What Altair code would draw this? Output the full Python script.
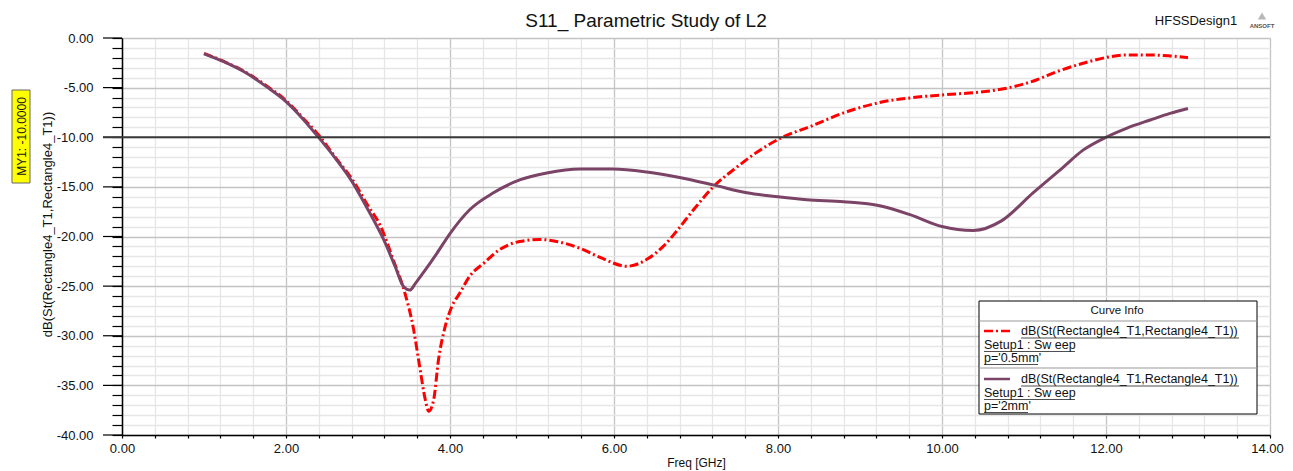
import altair as alt
import pandas as pd

# ---------------- data ----------------
freq_05 = [1.0, 1.24, 1.52, 1.76, 2.0, 2.2, 2.4, 2.6, 2.82, 3.0, 3.15, 3.31, 3.45, 3.55,
           3.63, 3.70, 3.74, 3.80, 3.86, 3.94, 4.02, 4.12, 4.24, 4.41, 4.61, 4.85, 5.10,
           5.30, 5.59, 5.83, 6.16, 6.42, 6.60, 6.75, 6.97, 7.21, 7.50, 7.78, 8.07, 8.39,
           8.80, 9.24, 9.65, 10.06, 10.46, 10.75, 11.15, 11.40, 11.72, 12.01, 12.25, 12.54,
           12.78, 13.0]
db_05 = [-1.55, -2.35, -3.5, -4.8, -6.3, -8.0, -9.8, -12.0, -14.4, -16.9, -18.9, -22.4,
         -25.7, -29.1, -33.1, -36.5, -37.6, -36.5, -32.4, -29.1, -27.1, -25.7, -24.0, -22.7,
         -21.3, -20.5, -20.3, -20.5, -21.2, -22.1, -23.0, -22.2, -21.0, -19.6, -17.3, -15.0,
         -13.0, -11.3, -9.94, -8.93, -7.55, -6.5, -6.0, -5.7, -5.45, -5.12, -4.23, -3.39,
         -2.55, -1.95, -1.71, -1.71, -1.81, -1.98]

freq_2 = [1.0, 1.24, 1.52, 1.76, 2.0, 2.2, 2.39, 2.6, 2.80, 2.98, 3.19, 3.33, 3.43, 3.51,
          3.58, 3.67, 3.84, 4.0, 4.24, 4.53, 4.85, 5.18, 5.59, 5.99, 6.40, 6.80, 7.21, 7.62,
          8.0, 8.35, 8.80, 9.24, 9.61, 10.0, 10.38, 10.73, 11.11, 11.48, 11.72, 12.0, 12.25,
          12.54, 12.78, 13.0]
db_2 = [-1.6, -2.39, -3.56, -4.9, -6.41, -8.1, -9.94, -12.1, -14.4, -17.0, -20.3, -23.0,
        -25.0, -25.4, -24.7, -23.7, -21.7, -19.7, -17.3, -15.6, -14.3, -13.6, -13.2, -13.2,
        -13.5, -14.05, -14.8, -15.6, -16.0, -16.3, -16.5, -16.9, -17.8, -19.0, -19.4, -18.4,
        -15.6, -13.0, -11.3, -10.0, -9.1, -8.26, -7.6, -7.1]

x_ticks = [round(0.4 * i, 1) for i in range(36)]
y_ticks = list(range(-40, 1))
y_major = list(range(-40, 1, 5))
marker_value = -10

title_text = "S11_ Parametric Study of L2"
design_text = "HFSSDesign1"
y_title = "dB(St(Rectangle4_T1,Rectangle4_T1))"
x_title = "Freq [GHz]"
curve_label = "dB(St(Rectangle4_T1,Rectangle4_T1))"
setup_label = "Setup1 : Sw eep"
p_labels = ["p='0.5mm'", "p='2mm'"]
marker_label = "MY1: -10.0000"

# ---------------- styling ----------------
FONT = "Liberation Sans"
W, H = 1148, 397
RED = "#FF0000"
PURPLE = "#7B4467"
MINOR_GRID = "#E6E6E6"
MAJOR_GRID = "#C4C4C4"

df05 = pd.DataFrame({"freq": freq_05, "db": db_05})
df2 = pd.DataFrame({"freq": freq_2, "db": db_2})

xscale = alt.Scale(domain=[0, 14], nice=False, zero=False)
yscale = alt.Scale(domain=[-40, 0], nice=False, zero=False)

x_axis = alt.Axis(
    values=x_ticks, tickCount=200,
    labelExpr="abs(datum.value/2 - round(datum.value/2)) < 0.001 ? format(datum.value, '.2f') : ''",
    labelOverlap=False, labelFlush=False, labelFont=FONT, labelFontSize=13, labelColor="#111",
    labelOffset={"condition": {"test": "datum.value > 13.9", "value": -3}, "value": 0},
    labelPadding=4, tickSize=3, tickColor="#000", tickWidth=1.2,
    domainColor="#000", domainWidth=1.5,
    grid=True, gridWidth=1.3,
    gridColor={"condition": {"test": "abs(datum.value/2 - round(datum.value/2)) < 0.001",
                             "value": MAJOR_GRID}, "value": MINOR_GRID},
    title=x_title, titleFont=FONT, titleFontSize=12, titleFontWeight="normal",
    titleColor="#111", titleY=31, titleBaseline="alphabetic",
)
y_axis = alt.Axis(
    values=y_ticks, tickCount=200,
    labelExpr="datum.value % 5 === 0 ? (datum.value < 0 ? '-' : '') + format(abs(datum.value), '.2f') : ''",
    labelOverlap=False, labelFlush=False, labelFont=FONT, labelFontSize=13, labelColor="#111",
    labelPadding=19, tickSize=10, tickColor="#000", tickWidth=1.2,
    domainColor="#000", domainWidth=1.5,
    grid=True, gridWidth=1.3,
    gridColor={"condition": {"test": "datum.value % 5 === 0", "value": MAJOR_GRID},
               "value": MINOR_GRID},
    title=y_title, titleFont=FONT, titleFontSize=13, titleFontWeight="normal",
    titleColor="#111", titleAngle=270, titleX=-75, titleY=186,
    titleAlign="center", titleBaseline="middle",
)

one = alt.Data(values=[{}])

red_line = alt.Chart(df05).mark_line(
    color=RED, strokeWidth=3, strokeDash=[9, 3, 2, 3], interpolate="monotone"
).encode(
    x=alt.X("freq:Q", scale=xscale, axis=x_axis),
    y=alt.Y("db:Q", scale=yscale, axis=y_axis),
)
purple_line = alt.Chart(df2).mark_line(
    color=PURPLE, strokeWidth=3, interpolate="monotone"
).encode(
    x=alt.X("freq:Q", scale=xscale, axis=x_axis),
    y=alt.Y("db:Q", scale=yscale, axis=y_axis),
)

major_ticks = alt.Chart(pd.DataFrame({"v": y_major})).mark_rule(
    color="#000", strokeWidth=1.2
).encode(y=alt.Y("v:Q", scale=yscale, axis=y_axis), x=alt.value(-19), x2=alt.value(0))

marker_rule = alt.Chart(one).mark_rule(color="#3a3a3a", strokeWidth=2).encode(
    y=alt.datum(marker_value, scale=yscale, axis=y_axis), x=alt.value(-19), x2=alt.value(W)
)

layers = [red_line, purple_line, major_ticks, marker_rule]


def txt(s, x, y, size=11, align="left", angle=0, color="#111", weight="normal", baseline="middle"):
    kw = dict(text=s, font=FONT, fontSize=size, align=align, baseline=baseline,
              color=color, fontWeight=weight)
    if angle:
        kw["angle"] = angle
    return alt.Chart(one).mark_text(**kw).encode(x=alt.value(x), y=alt.value(y))


def rule(x1, x2, y1, y2, color="#000", width=1, dash=None):
    kw = dict(color=color, strokeWidth=width)
    if dash:
        kw["strokeDash"] = dash
    return alt.Chart(one).mark_rule(**kw).encode(
        x=alt.value(x1), x2=alt.value(x2), y=alt.value(y1), y2=alt.value(y2))


def rect(x1, x2, y1, y2, fill, stroke="#000", width=1):
    return alt.Chart(one).mark_rect(fill=fill, stroke=stroke, strokeWidth=width).encode(
        x=alt.value(x1), x2=alt.value(x2), y=alt.value(y1), y2=alt.value(y2))


# marker label (yellow)
layers.append(rect(-110, -92, 52, 145, "#FFFF00", stroke="#666", width=1))
layers.append(txt(marker_label, -100.5, 98.5, size=12, align="center", angle=270))

# titles
layers.append(txt(title_text, 524, -17, size=19, align="center"))
layers.append(txt(design_text, 1074, -17, size=13, align="center"))
layers.append(alt.Chart(one).mark_point(shape="triangle-up", filled=True, color="#9a9a9a", size=70)
              .encode(x=alt.value(1140), y=alt.value(-22)))
layers.append(txt("ANSOFT", 1140, -12, size=6, align="center", weight="bold", color="#555"))

# legend box "Curve Info"
LX1, LX2, LY1, LY2 = 857, 1135, 263, 376
layers.append(rect(LX1, LX2, LY1, LY2, "#FFFFFF", stroke="#000", width=1))
layers.append(txt("Curve Info", 995, 273, size=11.5, align="center"))
layers.append(rule(LX1, LX2, 283, 283, color="#999"))
layers.append(rule(LX1, LX2, 330, 330, color="#999"))

rows = [(293, RED, [9, 3, 2, 3], 54), (341, PURPLE, None, 44)]
for (ry, col, dash, pw), plab in zip(rows, p_labels):
    layers.append(rule(862, 888, ry, ry, color=col, width=2.5, dash=dash))
    layers.append(txt(curve_label, 899, ry, size=12.5))
    layers.append(rule(899, 1117, ry + 7, ry + 7, color="#222", width=0.8))
    layers.append(txt(setup_label, 862, ry + 13.5, size=12.5))
    layers.append(rule(862, 953, ry + 20.5, ry + 20.5, color="#222", width=0.8))
    layers.append(txt(plab, 862, ry + 26.5, size=12.5))
    layers.append(rule(862, 862 + pw, ry + 33.5, ry + 33.5, color="#222", width=0.8))

chart = alt.layer(*layers).properties(
    width=W, height=H,
    autosize=alt.AutoSizeParams(type="none"),
    padding={"left": 114, "top": 30, "right": 15, "bottom": 36},
).configure_view(stroke="#000", strokeWidth=1.5).configure(background="white")

chart.save("out.html", embed_options={"renderer": "svg", "actions": False})
